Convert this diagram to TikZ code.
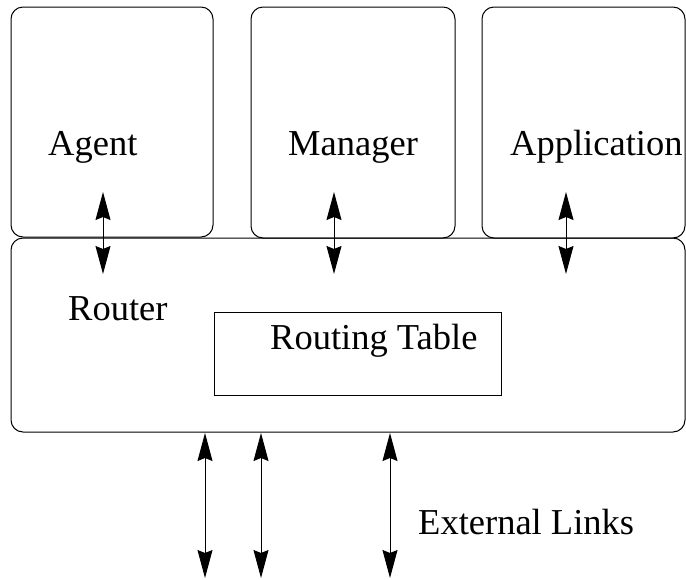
\documentclass[tikz,border=0pt]{standalone}
\usepackage{fontspec}
\setmainfont{Liberation Serif}
\usetikzlibrary{arrows.meta}
\begin{document}
\begin{tikzpicture}[x=1pt,y=-1pt,
  module/.style={draw=black,line width=1pt,rounded corners=12pt},
  plainbox/.style={draw=black,line width=1pt},
  lbl/.style={anchor=base west,inner sep=0pt,font=\fontsize{36.5}{40}\selectfont},
  tip/.style={Stealth[length=28pt,width=15pt,inset=3pt]},
  link/.style={line width=1pt,{Stealth[length=28pt,width=15pt,inset=3pt]}-{Stealth[length=28pt,width=15pt,inset=3pt]}}]
\useasboundingbox (0,0) rectangle (686,579);
% upper modules
\draw[module] (11,7) rectangle (213,237);
\draw[module] (251,7) rectangle (455,238);
\draw[module] (482,7) rectangle (685,238);
% router and its table
\draw[module] (11,238) rectangle (685,432);
\draw[plainbox] (214,312) rectangle (501,395);
% labels
\node[lbl] (agent) at (48,155) {Agent};
\node[lbl] (manager) at (288,155) {Manager};
\node[lbl] (app) at (510,155) {Application};
\node[lbl] (router) at (68,320) {Router};
\node[lbl] (table) at (270,349) {Routing Table};
\node[lbl] (ext) at (418,534) {External Links};
% link end points
\coordinate (a1) at (103,192); \coordinate (a2) at (103,274);
\coordinate (m1) at (334,192); \coordinate (m2) at (334,274);
\coordinate (p1) at (566,192); \coordinate (p2) at (566,274);
\coordinate (e1t) at (205,433); \coordinate (e1b) at (205,578);
\coordinate (e2t) at (261,433); \coordinate (e2b) at (261,578);
\coordinate (e3t) at (390,433); \coordinate (e3b) at (390,578);
% bidirectional links
\draw[link] (a1) -- (a2);
\draw[link] (m1) -- (m2);
\draw[link] (p1) -- (p2);
\draw[link] (e1t) -- (e1b);
\draw[link] (e2t) -- (e2b);
\draw[link] (e3t) -- (e3b);
\end{tikzpicture}
\end{document}
